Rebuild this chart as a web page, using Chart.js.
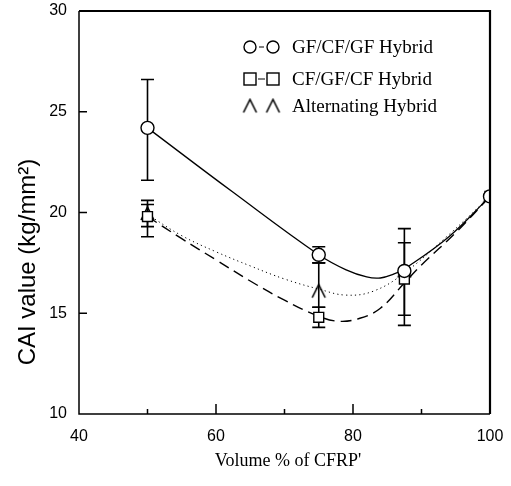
<!DOCTYPE html>
<html>
<head>
<meta charset="utf-8">
<script src="https://cdn.jsdelivr.net/npm/chart.js@4/dist/chart.umd.min.js"></script>
<style>
  html, body { margin: 0; padding: 0; background: #fff; }
  canvas { display: block; }
</style>
</head>
<body>
<canvas id="c" width="511" height="486"></canvas>
<script>
// Measured CAI values at each CFRP volume fraction
const volumes = [50, 75, 87.5, 100];

const gfcfgfValues = [24.2, 17.9, 17.1, 20.8];
const gfcfgfLow    = [21.6, 17.5, null, null];
const gfcfgfHigh   = [26.6, 18.3, null, null];

const cfgfcfValues = [19.8, 14.8, 16.7, 20.8];
const cfgfcfLow    = [18.8, 14.3, 14.4, null];
const cfgfcfHigh   = [20.6, 15.3, 19.2, null];

const altValues    = [19.95, 16.1, 17.1, 20.8];
const altLow       = [19.3, 15.3, 14.9, null];
const altHigh      = [20.4, 17.5, 18.5, null];

// Hand-drawn trend curves through each series
const gfcfgfCurveX = [50, 62.5, 75, 79, 82, 84, 86, 87.5, 94, 100];
const gfcfgfCurveY = [24.2, 21.0, 17.9, 17.15, 16.8, 16.75, 16.95, 17.2, 18.8, 20.8];

const cfgfcfCurveX = [50, 55, 60, 65, 70, 75, 78, 81, 84, 87.5, 90, 95, 100];
const cfgfcfCurveY = [19.8, 18.7, 17.65, 16.6, 15.65, 14.85, 14.6, 14.75, 15.25, 16.5, 17.4, 19.0, 20.8];

const altCurveX = [50, 55, 60, 65, 70, 75, 79, 83, 87.5, 94, 100];
const altCurveY = [19.9, 18.85, 18.05, 17.35, 16.7, 16.2, 15.9, 16.1, 17.0, 18.9, 20.8];

// Axis ticks
const xMajorTicks = [40, 60, 80, 100];
const xMinorTicks = [50, 70, 90];
const yTicks = [10, 15, 20, 25, 30];

const seriesNames = ['GF/CF/GF Hybrid', 'CF/GF/CF Hybrid', 'Alternating Hybrid'];
const xTitle = "Volume % of CFRP'";
const yTitle = 'CAI value (kg/mm\u00B2)';

const pts = (xs, ys) => xs.map((x, i) => ({ x: x, y: ys[i] }));

// Open caret marker used for the alternating series
function caretMarker(size) {
  const c = document.createElement('canvas');
  c.width = size + 4; c.height = size + 4;
  const g = c.getContext('2d');
  g.strokeStyle = '#000'; g.lineWidth = 1.6;
  g.beginPath();
  g.moveTo(2, size + 2); g.lineTo(size / 2 + 2, 2); g.lineTo(size + 2, size + 2);
  g.stroke();
  return c;
}
const caret = caretMarker(13);

const errorSets = [
  { low: gfcfgfLow, high: gfcfgfHigh },
  { low: cfgfcfLow, high: cfgfcfHigh },
  { low: altLow, high: altHigh }
];

const decorations = {
  id: 'decorations',
  beforeDatasetsDraw(chart) {
    const { ctx, scales: { x, y } } = chart;
    ctx.save();
    ctx.strokeStyle = '#000';
    ctx.lineWidth = 1.6;
    errorSets.forEach(s => {
      volumes.forEach((v, i) => {
        if (s.low[i] == null) return;
        const px = x.getPixelForValue(v);
        const y1 = y.getPixelForValue(s.low[i]);
        const y2 = y.getPixelForValue(s.high[i]);
        ctx.beginPath();
        ctx.moveTo(px, y1); ctx.lineTo(px, y2);
        ctx.moveTo(px - 6.5, y1); ctx.lineTo(px + 6.5, y1);
        ctx.moveTo(px - 6.5, y2); ctx.lineTo(px + 6.5, y2);
        ctx.stroke();
      });
    });
    ctx.restore();
  },
  afterDraw(chart) {
    const { ctx, chartArea: a, scales: { x, y } } = chart;
    ctx.save();
    ctx.strokeStyle = '#000';
    // frame
    ctx.lineWidth = 1.5;
    ctx.beginPath();
    ctx.moveTo(a.left, a.top); ctx.lineTo(a.left, a.bottom); ctx.lineTo(a.right, a.bottom);
    ctx.stroke();
    ctx.lineWidth = 2.2;
    ctx.beginPath();
    ctx.moveTo(a.left, a.top); ctx.lineTo(a.right, a.top); ctx.lineTo(a.right, a.bottom);
    ctx.stroke();
    // inward ticks
    ctx.lineWidth = 1.5;
    ctx.beginPath();
    yTicks.slice(1, -1).forEach(v => {
      const py = y.getPixelForValue(v);
      ctx.moveTo(a.left, py); ctx.lineTo(a.left + 8, py);
    });
    xMajorTicks.slice(1, -1).forEach(v => {
      const px = x.getPixelForValue(v);
      ctx.moveTo(px, a.bottom); ctx.lineTo(px, a.bottom - 10);
    });
    xMinorTicks.forEach(v => {
      const px = x.getPixelForValue(v);
      ctx.moveTo(px, a.bottom); ctx.lineTo(px, a.bottom - 5);
    });
    ctx.stroke();

    // axis titles
    ctx.fillStyle = '#000';
    ctx.font = '18px "Liberation Serif"';
    ctx.textAlign = 'center';
    ctx.textBaseline = 'middle';
    ctx.fillText(xTitle, 288, 461);
    ctx.save();
    ctx.translate(28, 262);
    ctx.rotate(-Math.PI / 2);
    ctx.font = '24px "Liberation Sans"';
    ctx.fillText(yTitle, 0, 0);
    ctx.restore();

    // legend
    const rows = [47, 79, 106];
    const m1 = 250, m2 = 273, tx = 292;
    ctx.lineWidth = 1.4;
    ctx.font = '19px "Liberation Serif"';
    ctx.textAlign = 'left';
    rows.forEach((ry, i) => {
      if (i === 0) {
        [m1, m2].forEach(mx => { ctx.beginPath(); ctx.arc(mx, ry, 6, 0, Math.PI * 2); ctx.stroke(); });
        ctx.lineWidth = 1;
        ctx.beginPath(); ctx.moveTo(m1 + 9, ry); ctx.lineTo(m2 - 9, ry); ctx.stroke();
        ctx.lineWidth = 1.4;
      } else if (i === 1) {
        [m1, m2].forEach(mx => ctx.strokeRect(mx - 6, ry - 6, 12, 12));
        ctx.lineWidth = 1;
        ctx.beginPath(); ctx.moveTo(m1 + 8, ry); ctx.lineTo(m2 - 8, ry); ctx.stroke();
        ctx.lineWidth = 1.4;
      } else {
        [m1, m2].forEach(mx => ctx.drawImage(caret, mx - caret.width / 2, ry - caret.height / 2));
      }
      ctx.fillText(seriesNames[i], tx, ry + 1);
    });
    ctx.restore();
  }
};

const markerBase = {
  showLine: false,
  borderColor: '#000',
  backgroundColor: '#fff',
  borderWidth: 1.4,
  pointRadius: 6.5,
  order: 1
};
const curveBase = {
  showLine: true,
  pointRadius: 0,
  borderColor: '#000',
  fill: false,
  tension: 0.4,
  order: 2
};

// Keep the plot box fixed: ignore the label overhang that scales report
function noOverhang(s) {
  s.paddingTop = 0; s.paddingBottom = 0; s.paddingLeft = 0; s.paddingRight = 0;
}

new Chart(document.getElementById('c').getContext('2d'), {
  type: 'scatter',
  data: {
    datasets: [
      Object.assign({}, curveBase, { label: 'gf-curve', data: pts(gfcfgfCurveX, gfcfgfCurveY), borderWidth: 1.3 }),
      Object.assign({}, curveBase, { label: 'cf-curve', data: pts(cfgfcfCurveX, cfgfcfCurveY), borderWidth: 1.4, borderDash: [11, 6] }),
      Object.assign({}, curveBase, { label: 'alt-curve', data: pts(altCurveX, altCurveY), borderWidth: 1, borderDash: [1.2, 3.2] }),
      Object.assign({}, markerBase, { label: seriesNames[0], data: pts(volumes, gfcfgfValues), pointStyle: 'circle' }),
      Object.assign({}, markerBase, { label: seriesNames[1], data: pts(volumes, cfgfcfValues), pointStyle: 'rect', pointRadius: 7 }),
      Object.assign({}, markerBase, { label: seriesNames[2], data: pts(volumes, altValues), pointStyle: caret })
    ]
  },
  options: {
    responsive: false,
    animation: false,
    devicePixelRatio: 1,
    layout: { padding: { top: 11, right: 21, left: 0, bottom: 0 } },
    plugins: { legend: { display: false }, tooltip: { enabled: false } },
    scales: {
      x: {
        type: 'linear', min: 40, max: 100,
        afterBuildTicks: s => { s.ticks = xMajorTicks.map(v => ({ value: v })); },
        afterFit: s => { s.height = 72; noOverhang(s); },
        grid: { display: false, drawTicks: false },
        border: { display: false },
        ticks: { color: '#000', font: { family: 'Liberation Sans', size: 16 }, padding: 13, maxRotation: 0 }
      },
      y: {
        type: 'linear', min: 10, max: 30,
        afterBuildTicks: s => { s.ticks = yTicks.map(v => ({ value: v })); },
        afterFit: s => { s.width = 79; noOverhang(s); },
        grid: { display: false, drawTicks: false },
        border: { display: false },
        ticks: { color: '#000', font: { family: 'Liberation Sans', size: 16 }, padding: 12 }
      }
    }
  },
  plugins: [decorations]
});
</script>
</body>
</html>
